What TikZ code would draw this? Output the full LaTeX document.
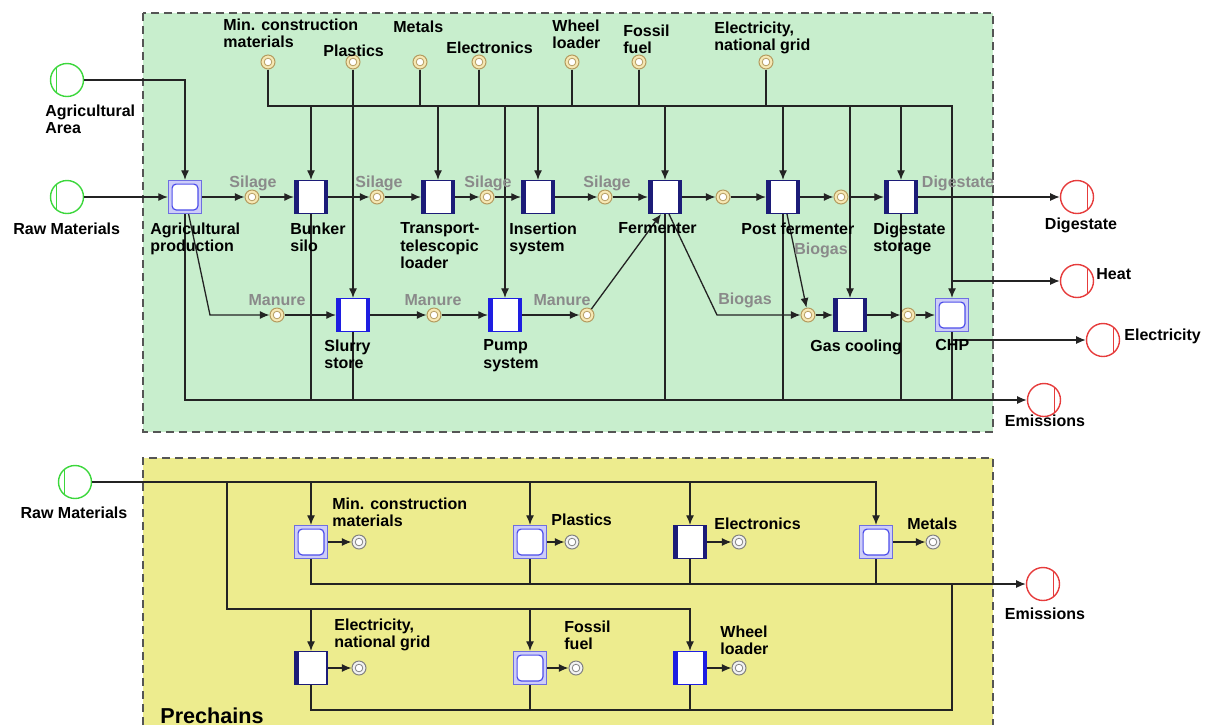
\documentclass[tikz,border=0pt]{standalone}
\usepackage{fontspec}
\setmainfont{Liberation Sans}
\usetikzlibrary{arrows.meta}

\definecolor{panelgreen}{RGB}{200,238,205}
\definecolor{panelyellow}{RGB}{237,236,142}
\definecolor{dashgray}{RGB}{85,85,85}
\definecolor{linegray}{RGB}{35,35,35}
\definecolor{flowgray}{RGB}{138,138,138}
\definecolor{navy}{RGB}{28,28,120}
\definecolor{brightblue}{RGB}{30,30,225}
\definecolor{lavborder}{RGB}{110,110,225}
\definecolor{lavfill}{RGB}{205,205,248}
\definecolor{placetan}{RGB}{180,155,95}
\definecolor{placefill}{RGB}{246,232,180}
\definecolor{srcgreen}{RGB}{60,215,60}
\definecolor{sinkred}{RGB}{230,60,60}

\tikzset{
  panel/.style={draw=dashgray, line width=0.75pt, dash pattern=on 4pt off 2.5pt},
  lbl/.style={anchor=north west, inner sep=0pt, align=left, font=\bfseries\fontsize{8}{8.8}\selectfont},
  flowlbl/.style={inner sep=0pt, text=flowgray, font=\bfseries\fontsize{8}{8.8}\selectfont},
  wire/.style={draw=linegray, line width=0.65pt},
  feed/.style={wire, -{Latex[length=4.8pt,width=4pt]}},
  box/.style={rectangle, fill=white, minimum width=16.5pt, minimum height=16.5pt, inner sep=0pt},
  sidebox/.style={box, draw=#1, line width=0.6pt, path picture={
      \fill[#1] (path picture bounding box.south west) rectangle ([xshift=2pt]path picture bounding box.north west);
      \fill[#1] (path picture bounding box.south east) rectangle ([xshift=-2pt]path picture bounding box.north east);}},
  leftbox/.style={box, draw=navy, line width=0.6pt, path picture={
      \fill[navy] (path picture bounding box.south west) rectangle ([xshift=2.2pt]path picture bounding box.north west);
      \fill[navy] (path picture bounding box.south east) rectangle ([xshift=-0.8pt]path picture bounding box.north east);}},
  dblbox/.style={box, draw=lavborder, fill=lavfill, line width=0.6pt, path picture={
      \draw[draw=lavborder!70!blue, fill=white, line width=0.6pt, rounded corners=2pt]
        ([shift={(1.8pt,1.8pt)}]path picture bounding box.south west) rectangle
        ([shift={(-1.8pt,-1.8pt)}]path picture bounding box.north east);}},
  place/.style={circle, draw=placetan, fill=placefill, line width=0.5pt, minimum size=7pt, inner sep=0pt,
      path picture={\draw[placetan, fill=white, line width=0.4pt] (path picture bounding box.center) circle (1.9pt);}},
  gplace/.style={circle, draw=gray, fill=white!90!gray, line width=0.5pt, minimum size=7pt, inner sep=0pt,
      path picture={\draw[gray, fill=white, line width=0.4pt] (path picture bounding box.center) circle (1.9pt);}},
  source/.style={circle, draw=srcgreen, fill=white, line width=0.7pt, minimum size=16.5pt, inner sep=0pt,
      path picture={\draw[srcgreen, line width=0.7pt] ([xshift=3pt]path picture bounding box.north west) -- ([xshift=3pt]path picture bounding box.south west);}},
  sink/.style={circle, draw=sinkred, fill=white, line width=0.7pt, minimum size=16.5pt, inner sep=0pt,
      path picture={\draw[sinkred, line width=0.7pt] ([xshift=-3pt]path picture bounding box.north east) -- ([xshift=-3pt]path picture bounding box.south east);}}
}

\begin{document}
\begin{tikzpicture}[x=0.5pt, y=-0.5pt]
    \useasboundingbox (0,0) rectangle (1211,725);

    %%%%%%%%%% Pannelli %%%%%%%%%%
    \draw[panel, fill=panelgreen] (143,13) rectangle (993,432);
    \path[fill=panelyellow] (143,458) rectangle (993,725);
    \draw[panel] (143,725) -- (143,458) -- (993,458) -- (993,725);

    %%%%%%%%%% Nodi: impianto %%%%%%%%%%
    \node[source] (srcArea) at (67,80) {};
    \node[source] (srcRaw) at (67,197) {};
    \node[dblbox] (agri) at (185,197) {};
    \node[place] (pSil1) at (252,197) {};
    \node[sidebox=navy] (bunker) at (311,197) {};
    \node[place] (pSil2) at (377,197) {};
    \node[sidebox=navy] (transp) at (438,197) {};
    \node[place] (pSil3) at (487,197) {};
    \node[sidebox=navy] (insert) at (538,197) {};
    \node[place] (pSil4) at (605,197) {};
    \node[sidebox=navy] (ferm) at (665,197) {};
    \node[place] (pFerm) at (723,197) {};
    \node[sidebox=navy] (postf) at (783,197) {};
    \node[place] (pPost) at (841,197) {};
    \node[sidebox=navy] (digst) at (901,197) {};

    \node[place] (pMan1) at (277,315) {};
    \node[sidebox=brightblue] (slurry) at (353,315) {};
    \node[place] (pMan2) at (434,315) {};
    \node[sidebox=brightblue] (pump) at (505,315) {};
    \node[place] (pMan3) at (587,315) {};
    \node[place] (pBio1) at (808,315) {};
    \node[sidebox=navy] (gascool) at (850,315) {};
    \node[place] (pBio2) at (908,315) {};
    \node[dblbox] (chp) at (952,315) {};

    \node[place] (pMin) at (268,62) {};
    \node[place] (pPlast) at (353,62) {};
    \node[place] (pMet) at (420,62) {};
    \node[place] (pElo) at (479,62) {};
    \node[place] (pWheel) at (572,62) {};
    \node[place] (pFoss) at (639,62) {};
    \node[place] (pElec) at (766,62) {};

    \node[sink] (snkDig) at (1077,197) {};
    \node[sink] (snkHeat) at (1077,281) {};
    \node[sink] (snkElec) at (1103,340) {};
    \node[sink] (snkEmis) at (1044,400) {};

    \coordinate (busE) at (952,106);
    \coordinate (emisW) at (185,400);
    \coordinate (kAgri) at (210,315);
    \coordinate (kFerm) at (717,315);

    %%%%%%%%%% Nodi: catene a monte %%%%%%%%%%
    \node[source] (srcRaw2) at (75,482) {};
    \node[dblbox] (bMin) at (311,542) {};
    \node[gplace] (qMin) at (359,542) {};
    \node[dblbox] (bPla) at (530,542) {};
    \node[gplace] (qPla) at (572,542) {};
    \node[sidebox=navy] (bElo) at (690,542) {};
    \node[gplace] (qElo) at (739,542) {};
    \node[dblbox] (bMet) at (876,542) {};
    \node[gplace] (qMet) at (933,542) {};
    \node[leftbox] (bEle) at (311,668) {};
    \node[gplace] (qEle) at (359,668) {};
    \node[dblbox] (bFos) at (530,668) {};
    \node[gplace] (qFos) at (576,668) {};
    \node[sidebox=brightblue] (bWhl) at (690,668) {};
    \node[gplace] (qWhl) at (739,668) {};
    \node[sink] (snkEmis2) at (1043,584) {};

    \coordinate (rbE) at (876,482);
    \coordinate (rb2) at (227,609);
    \coordinate (ebW) at (311,584);
    \coordinate (eb2E) at (952,710);

    %%%%%%%%%% Archi: impianto %%%%%%%%%%
    \draw[feed] (srcArea) -| (agri);
    \draw[feed] (srcRaw) -- (agri);
    \draw[feed] (agri) -- (pSil1);
    \draw[feed] (pSil1) -- (bunker);
    \draw[feed] (bunker) -- (pSil2);
    \draw[feed] (pSil2) -- (transp);
    \draw[feed] (transp) -- (pSil3);
    \draw[feed] (pSil3) -- (insert);
    \draw[feed] (insert) -- (pSil4);
    \draw[feed] (pSil4) -- (ferm);
    \draw[feed] (ferm) -- (pFerm);
    \draw[feed] (pFerm) -- (postf);
    \draw[feed] (postf) -- (pPost);
    \draw[feed] (pPost) -- (digst);
    \draw[feed] (digst) -- (snkDig);

    \draw[feed] (agri) -- (kAgri) -- (pMan1);
    \draw[feed] (pMan1) -- (slurry);
    \draw[feed] (slurry) -- (pMan2);
    \draw[feed] (pMan2) -- (pump);
    \draw[feed] (pump) -- (pMan3);
    \draw[feed] (pMan3) -- ([xshift=-2pt]ferm.south);
    \draw[feed] ([xshift=2pt]ferm.south) -- (kFerm) -- (pBio1);
    \draw[feed] ([xshift=2pt]postf.south) -- (pBio1);
    \draw[feed] (pBio1) -- (gascool);
    \draw[feed] (gascool) -- (pBio2);
    \draw[feed] (pBio2) -- (chp);

    % bus delle risorse
    \draw[feed] (pMin) |- (busE) -- (chp);
    \draw[wire] (pMet) -- (pMet |- busE);
    \draw[wire] (pElo) -- (pElo |- busE);
    \draw[wire] (pWheel) -- (pWheel |- busE);
    \draw[wire] (pFoss) -- (pFoss |- busE);
    \draw[wire] (pElec) -- (pElec |- busE);
    \draw[feed] (pPlast) -- (slurry);
    \draw[feed] (bunker |- busE) -- (bunker);
    \draw[feed] (transp |- busE) -- (transp);
    \draw[feed] (pump |- busE) -- (pump);
    \draw[feed] (insert |- busE) -- (insert);
    \draw[feed] (ferm |- busE) -- (ferm);
    \draw[feed] (postf |- busE) -- (postf);
    \draw[feed] (gascool |- busE) -- (gascool);
    \draw[feed] (digst |- busE) -- (digst);

    % uscite
    \draw[feed] (busE |- snkHeat) -- (snkHeat);
    \draw[feed] (chp |- snkElec) -- (snkElec);
    \draw[feed] (agri) -- (emisW) -- (snkEmis);
    \draw[wire] (bunker) -- (bunker |- emisW);
    \draw[wire] (slurry) -- (slurry |- emisW);
    \draw[wire] (ferm) -- (ferm |- emisW);
    \draw[wire] (postf) -- (postf |- emisW);
    \draw[wire] (digst) -- (digst |- emisW);
    \draw[wire] (chp) -- (chp |- emisW);

    %%%%%%%%%% Archi: catene a monte %%%%%%%%%%
    \draw[feed] (srcRaw2) -- (rbE) -- (bMet);
    \draw[feed] (bMin |- rbE) -- (bMin);
    \draw[feed] (bPla |- rbE) -- (bPla);
    \draw[feed] (bElo |- rbE) -- (bElo);
    \draw[feed] (rb2 |- rbE) -- (rb2) -| (bWhl);
    \draw[feed] (bEle |- rb2) -- (bEle);
    \draw[feed] (bFos |- rb2) -- (bFos);

    \draw[feed] (bMin) -- (qMin);
    \draw[feed] (bPla) -- (qPla);
    \draw[feed] (bElo) -- (qElo);
    \draw[feed] (bMet) -- (qMet);
    \draw[feed] (bEle) -- (qEle);
    \draw[feed] (bFos) -- (qFos);
    \draw[feed] (bWhl) -- (qWhl);

    \draw[feed] (bMin) -- (ebW) -- (snkEmis2);
    \draw[wire] (bPla) -- (bPla |- ebW);
    \draw[wire] (bElo) -- (bElo |- ebW);
    \draw[wire] (bMet) -- (bMet |- ebW);
    \draw[wire] (bEle) |- (eb2E) -- (eb2E |- ebW);
    \draw[wire] (bFos) -- (bFos |- eb2E);
    \draw[wire] (bWhl) -- (bWhl |- eb2E);

    %%%%%%%%%% Etichette %%%%%%%%%%
    \node[lbl] (lArea) at (45,104) {Agricultural\\Area};
    \node[lbl] (lRaw) at (13,222) {Raw Materials};
    \node[lbl] (lAgri) at (150,222) {Agricultural\\production};
    \node[lbl] (lBunker) at (290,222) {Bunker\\silo};
    \node[lbl] (lTransp) at (400,222) {Transport-\\telescopic\\loader};
    \node[lbl] (lInsert) at (509,222) {Insertion\\system};
    \node[lbl] (lFerm) at (618,222) {Fermenter};
    \node[lbl] (lPostf) at (741,222) {Post fermenter};
    \node[lbl] (lDigst) at (873,222) {Digestate\\storage};
    \node[lbl] (lSlurry) at (324,339) {Slurry\\store};
    \node[lbl] (lPump) at (483,339) {Pump\\system};
    \node[lbl] (lGas) at (810,339) {Gas cooling};
    \node[lbl] (lChp) at (935,339) {CHP};
    \node[lbl] (lMin) at (223,18) {Min. construction\\materials};
    \node[lbl] (lPlast) at (323,44) {Plastics};
    \node[lbl] (lMet) at (393,20) {Metals};
    \node[lbl] (lElo) at (446,41) {Electronics};
    \node[lbl] (lWheel) at (552,19) {Wheel\\loader};
    \node[lbl] (lFoss) at (623,24) {Fossil\\fuel};
    \node[lbl] (lElec) at (714,21) {Electricity,\\national grid};
    \node[lbl, anchor=north] (lSnkDig) at (1081,217) {Digestate};
    \node[lbl, anchor=west] (lHeat) at (1096,274) {Heat};
    \node[lbl, anchor=west] (lSnkElec) at (1124,336) {Electricity};
    \node[lbl, anchor=north] (lEmis) at (1045,414) {Emissions};

    \node[flowlbl] (fSil1) at (253,183) {Silage};
    \node[flowlbl] (fSil2) at (379,183) {Silage};
    \node[flowlbl] (fSil3) at (488,183) {Silage};
    \node[flowlbl] (fSil4) at (607,183) {Silage};
    \node[flowlbl] (fDig) at (958,183) {Digestate};
    \node[flowlbl] (fMan1) at (277,300) {Manure};
    \node[flowlbl] (fMan2) at (433,300) {Manure};
    \node[flowlbl] (fMan3) at (562,300) {Manure};
    \node[flowlbl] (fBio1) at (745,300) {Biogas};
    \node[flowlbl] (fBio2) at (821,250) {Biogas};

    \node[lbl, anchor=north] (lRaw2) at (74,506) {Raw Materials};
    \node[lbl] (lbMin) at (332,497) {Min. construction\\materials};
    \node[lbl] (lbPla) at (551,513) {Plastics};
    \node[lbl] (lbElo) at (714,517) {Electronics};
    \node[lbl] (lbMet) at (907,517) {Metals};
    \node[lbl] (lbEle) at (334,618) {Electricity,\\national grid};
    \node[lbl] (lbFos) at (564,620) {Fossil\\fuel};
    \node[lbl] (lbWhl) at (720,625) {Wheel\\loader};
    \node[lbl, anchor=north] (lEmis2) at (1045,607) {Emissions};
    \node[lbl, font=\bfseries\fontsize{10.8}{12}\selectfont] (lPre) at (160,707) {Prechains};
\end{tikzpicture}
\end{document}
